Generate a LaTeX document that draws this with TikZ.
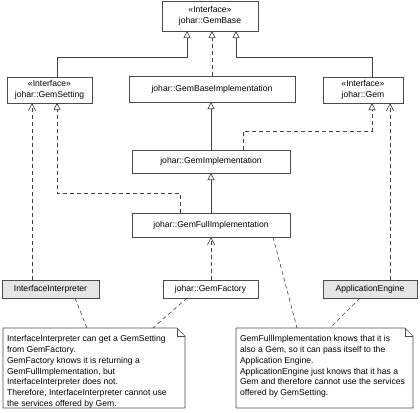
\documentclass[tikz,border=0pt]{standalone}
\usepackage{fontspec}
\setmainfont{Liberation Sans}
\usetikzlibrary{arrows.meta}
\begin{document}
\begin{tikzpicture}[x=1pt,y=-1pt,
  box/.style={draw=black!70, fill=white, line width=0.6pt, inner sep=0pt, outer sep=0pt, font=\fontsize{8.6}{11.5}\selectfont, align=center},
  actor/.style={box, fill=black!10},
  ln/.style={draw=black!75, line width=0.6pt},
  dsh/.style={ln, dash pattern=on 4pt off 3pt},
  real/.style={dsh, -{Triangle[open,length=7pt,width=7pt]}},
  gen/.style={ln, -{Triangle[open,length=7pt,width=7pt]}},
  dep/.style={dsh, -{Straight Barb[length=7pt,width=7pt]}},
  notetxt/.style={anchor=north west, inner xsep=4pt, inner ysep=7.5pt, outer sep=0pt, align=left, font=\fontsize{8.6}{10.8}\selectfont},
  notebox/.style={draw=black!70, line width=0.6pt, line join=miter}
]
\useasboundingbox (0,0) rectangle (420,412);

% classes
\node[box, minimum width=96pt, minimum height=30pt] (base) at (210,16) {«Interface»\\johar::GemBase};
\node[box, minimum width=85pt, minimum height=26pt] (setting) at (49.5,90) {«Interface»\\johar::GemSetting};
\node[box, minimum width=80pt, minimum height=26pt] (gem) at (363,90) {«Interface»\\johar::Gem};
\node[box, minimum width=166pt, minimum height=26pt] (baseimpl) at (212,89) {johar::GemBaseImplementation};
\node[box, minimum width=158pt, minimum height=23pt] (impl) at (211,161.5) {johar::GemImplementation};
\node[box, minimum width=158pt, minimum height=24pt] (full) at (211,225) {johar::GemFullImplementation};
\node[actor, minimum width=97pt, minimum height=18pt] (interp) at (50.5,289) {InterfaceInterpreter};
\node[box, minimum width=95pt, minimum height=18pt] (factory) at (210.5,289) {johar::GemFactory};
\node[actor, minimum width=94pt, minimum height=18pt] (app) at (370,289) {ApplicationEngine};

% notes
\draw[notebox] (3,328) -- (177,328) -- (185,336) -- (185,408) -- (3,408) -- cycle;
\draw[notebox] (177,328) -- (177,336) -- (185,336);
\node[notetxt] (n1) at (3,328) {InterfaceInterpreter can get a GemSetting\\from GemFactory.\\GemFactory knows it is returning a\\GemFullImplementation, but\\InterfaceInterpreter does not.\\Therefore, InterfaceInterpreter cannot use\\the services offered by Gem.};

\draw[notebox] (236,328) -- (405,328) -- (413,336) -- (413,408) -- (236,408) -- cycle;
\draw[notebox] (405,328) -- (405,336) -- (413,336);
\node[notetxt] (n2) at (236,328) {GemFullImplementation knows that it is\\also a Gem, so it can pass itself to the\\Application Engine.\\ApplicationEngine just knows that it has a\\Gem and therefore cannot use the services\\offered by GemSetting.};

% generalizations and realizations
\draw[gen] (57,0 |- setting.north) -- (57,57) -- (187,57) -- (187,0 |- base.south);
\draw[gen] (372,0 |- gem.north) -- (372,57) -- (236,57) -- (236,0 |- base.south);
\draw[real] (212,0 |- baseimpl.north) -- (212,0 |- base.south);
\draw[gen] (211,0 |- impl.north) -- (211,0 |- baseimpl.south);
\draw[real] (243,0 |- impl.north) -- (243,131) -- (372,131) -- (372,0 |- gem.south);
\draw[gen] (211,0 |- full.north) -- (211,0 |- impl.south);
\draw[real] (180,0 |- full.north) -- (180,193) -- (57,193) -- (57,0 |- setting.south);

% dependencies
\draw[dep] (211,0 |- factory.north) -- (211,0 |- full.south);
\draw[dep] (32,0 |- interp.north) -- (32,0 |- setting.south);
\draw[dep] (390,0 |- app.north) -- (390,0 |- gem.south);

% note anchors
\draw[dsh] (75,0 |- interp.south) -- (87,0 |- n1.north);
\draw[dsh] (187,0 |- factory.south) -- (153,0 |- n1.north);
\draw[dsh] (273,0 |- full.south) -- (297,0 |- n2.north);
\draw[dsh] (360,0 |- app.south) -- (330,0 |- n2.north);
\end{tikzpicture}
\end{document}
